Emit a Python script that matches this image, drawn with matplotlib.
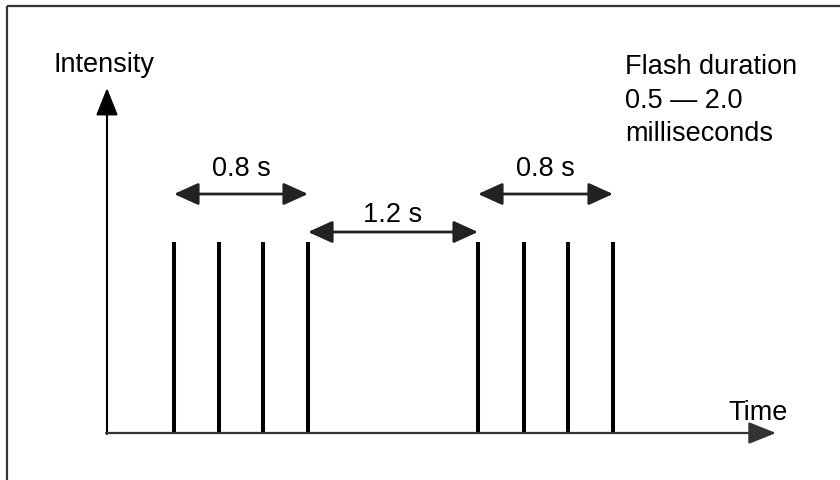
import matplotlib
matplotlib.use("Agg")
import matplotlib.pyplot as plt
from matplotlib.patches import Rectangle

plt.rcParams['font.family'] = ['Liberation Sans', 'DejaVu Sans']

# schematic positions (pixel-like units, y grows downward)
flash_x = [174, 219, 263, 308, 478, 524, 568, 613]
flash_top = 242
baseline_y = 433

# intervals between flashes: (first flash index, last flash index)
intervals = [(0, 3), (3, 4), (4, 7)]
interval_labels = ["0.8 s", "1.2 s", "0.8 s"]
interval_y = [194, 232, 194]
label_y = [176, 222, 176]

note_lines = ["Flash duration", "0.5 \u2014 2.0", "milliseconds"]

FS = 19.5

fig = plt.figure(figsize=(8.4, 4.8), dpi=100)
ax = fig.add_axes([0, 0, 1, 1])
ax.set_xlim(0, 840)
ax.set_ylim(480, 0)
ax.axis('off')

# frame round the picture (cut off at right and bottom)
ax.add_patch(Rectangle((7, 6), 850, 500, fill=False, lw=1.6, edgecolor='#333333'))

# axes with arrow heads
axis_arrow = '-|>,head_length=0.85,head_width=0.34'
ax.annotate('', xy=(107, 88), xytext=(107, baseline_y + 1),
            arrowprops=dict(arrowstyle=axis_arrow, color='black', lw=1.5,
                            shrinkA=0, shrinkB=0, mutation_scale=20))
ax.annotate('', xy=(776, baseline_y), xytext=(106, baseline_y),
            arrowprops=dict(arrowstyle=axis_arrow, color='#333333', lw=1.6,
                            shrinkA=0, shrinkB=0, mutation_scale=20))

# flashes
ax.vlines(flash_x, baseline_y, flash_top, color='black', lw=2.9, capstyle='butt')

# interval arrows and labels
for (i0, i1), lab, ya, yl in zip(intervals, interval_labels, interval_y, label_y):
    x0, x1 = flash_x[i0], flash_x[i1]
    ax.annotate('', xy=(x1, ya), xytext=(x0, ya),
                arrowprops=dict(arrowstyle='<|-|>,head_length=0.75,head_width=0.34',
                                color='#222222', lw=2.0, shrinkA=0, shrinkB=0,
                                mutation_scale=20))
    ax.text((x0 + x1) / 2, yl, lab, fontsize=FS, ha='center', va='baseline')

ax.text(53, 72, "Intensity", fontsize=FS, ha='left', va='baseline')
ax.text(728, 420, "Time", fontsize=FS, ha='left', va='baseline')
for k, line in enumerate(note_lines):
    ax.text(625, 74 + 33.5 * k, line, fontsize=FS, ha='left', va='baseline')

fig.savefig('out.png', dpi=100)
